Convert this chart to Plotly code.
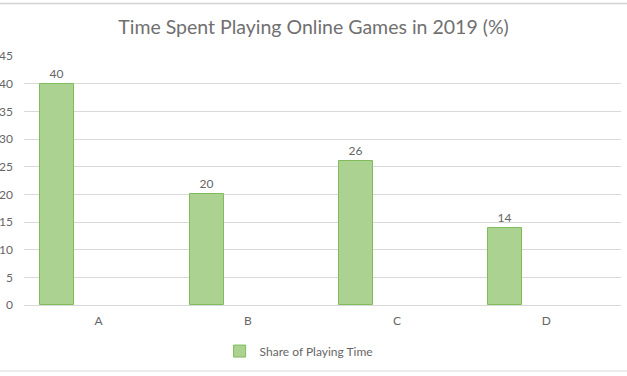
import plotly.graph_objects as go

categories = ["A", "B", "C", "D"]
share_values = [40, 20, 26, 14]
series_name = "Share of Playing Time"
title_text = "Time Spent Playing Online Games in 2019 (%)"
y_ticks = [0, 5, 10, 15, 20, 25, 30, 35, 40, 45]

FONT = "Lato, 'Open Sans', sans-serif"
GRAY = "#666666"

fig = go.Figure()
fig.add_trace(go.Bar(
    x=categories,
    y=share_values,
    name=series_name,
    width=0.228,
    offset=-0.39,
    marker=dict(color="#acd292", line=dict(color="#80bb5c", width=1)),
    text=[str(v) for v in share_values],
    textposition="outside",
    textfont=dict(family=FONT, size=12, color=GRAY),
    cliponaxis=False,
    showlegend=True,
))

fig.update_layout(
    width=627, height=376,
    margin=dict(l=24, r=6, t=56, b=71, autoexpand=False),
    paper_bgcolor="white", plot_bgcolor="white",
    font=dict(family=FONT, size=12, color=GRAY),
    title=dict(text=title_text, x=0.5, xanchor="center", y=1 - 27/376, yanchor="middle",
               yref="container", font=dict(family=FONT, size=19.5, color="#707070")),
    showlegend=True,
    legend=dict(orientation="h", x=0.46, xanchor="center", y=-0.185, yanchor="middle",
                font=dict(family=FONT, size=12, color=GRAY)),
    xaxis=dict(showgrid=False, showline=True, linecolor="#d9d9d9", ticks="",
               automargin=False, ticklabelstandoff=5,
               tickfont=dict(family=FONT, size=12, color=GRAY)),
    yaxis=dict(range=[0, 45], tickvals=y_ticks, showgrid=True, gridcolor="#d9d9d9",
               zeroline=False, showline=False, ticks="", automargin=False,
               ticklabelstandoff=10,
               tickfont=dict(family=FONT, size=12, color=GRAY)),
    bargap=0,
    shapes=[
        dict(type="line", xref="paper", yref="paper", x0=-0.1, x1=1.1,
             y0=(305 - 3.5) / 249, y1=(305 - 3.5) / 249,
             line=dict(color="#d4d4d4", width=1.5)),
        dict(type="line", xref="paper", yref="paper", x0=-0.1, x1=1.1,
             y0=-(371 - 305) / 249, y1=-(371 - 305) / 249,
             line=dict(color="#d9d9d9", width=1)),
    ],
)

fig.write_html("out.html", config={"displayModeBar": False},
               post_script="document.body.style.margin='0';")
